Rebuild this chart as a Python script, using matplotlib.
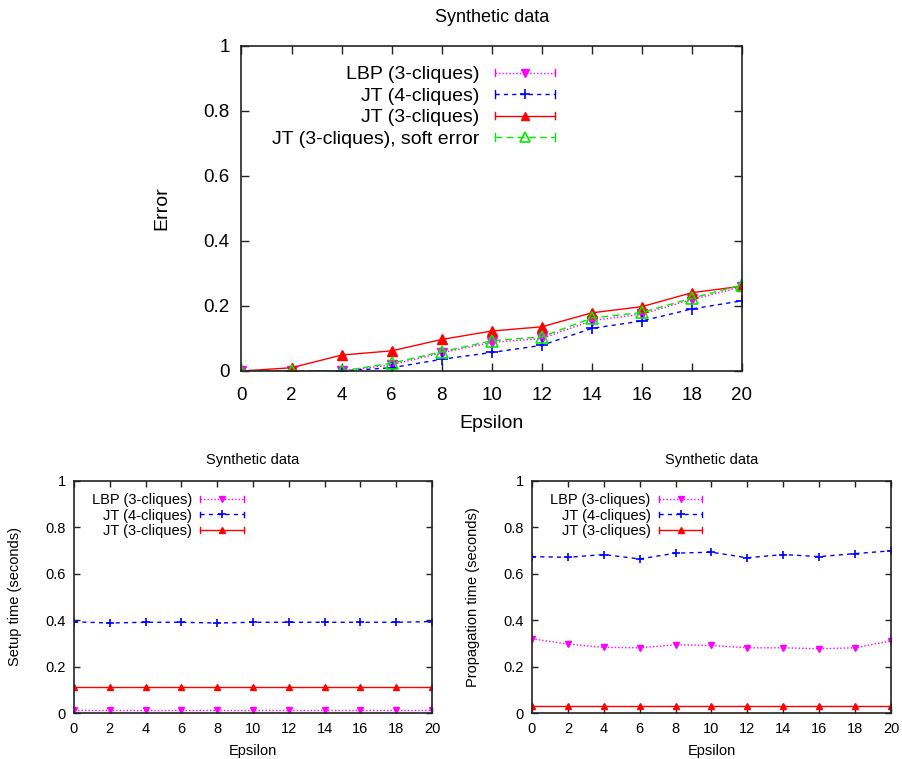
import matplotlib
matplotlib.use("Agg")
import matplotlib.pyplot as plt
from matplotlib.legend_handler import HandlerLine2D
from matplotlib.lines import Line2D
from matplotlib.ticker import FuncFormatter

plt.rcParams['font.family'] = ['Liberation Sans', 'DejaVu Sans']

epsilon = [0, 2, 4, 6, 8, 10, 12, 14, 16, 18, 20]

# Top: error
err_lbp3 = [0, 0, 0, 0.019, 0.056, 0.088, 0.100, 0.155, 0.175, 0.220, 0.259]
err_jt4 = [0, 0, 0, 0.010, 0.036, 0.057, 0.079, 0.131, 0.154, 0.191, 0.216]
err_jt3 = [0, 0.010, 0.049, 0.062, 0.097, 0.123, 0.136, 0.179, 0.198, 0.241, 0.261]
err_jt3_soft = [0, 0, 0, 0.024, 0.059, 0.093, 0.105, 0.163, 0.180, 0.224, 0.265]

# Bottom left: setup time
setup_lbp3 = [0.012, 0.012, 0.012, 0.012, 0.012, 0.012, 0.012, 0.012, 0.012, 0.012, 0.012]
setup_jt4 = [0.393, 0.388, 0.391, 0.391, 0.388, 0.391, 0.391, 0.391, 0.391, 0.391, 0.394]
setup_jt3 = [0.111, 0.111, 0.111, 0.111, 0.111, 0.111, 0.111, 0.111, 0.111, 0.111, 0.111]

# Bottom right: propagation time
prop_lbp3 = [0.320, 0.297, 0.283, 0.281, 0.294, 0.291, 0.281, 0.281, 0.277, 0.281, 0.311]
prop_jt4 = [0.674, 0.671, 0.683, 0.664, 0.689, 0.693, 0.669, 0.683, 0.674, 0.687, 0.699]
prop_jt3 = [0.031, 0.031, 0.031, 0.031, 0.031, 0.031, 0.031, 0.031, 0.031, 0.031, 0.031]

labels = ["LBP (3-cliques)", "JT (4-cliques)", "JT (3-cliques)", "JT (3-cliques), soft error"]
title = "Synthetic data"

MAG = "#ff00ff"
BLU = "#0000ff"
RED = "#ff0000"
GRN = "#00ee00"


class CapHandler(HandlerLine2D):
    def create_artists(self, legend, orig_handle, xdescent, ydescent, width, height, fontsize, trans):
        arts = super().create_artists(legend, orig_handle, xdescent, ydescent, width, height, fontsize, trans)
        c = orig_handle.get_color()
        h = height * 0.55
        y0 = height / 2 - ydescent
        for x in (-xdescent, -xdescent + width):
            cap = Line2D([x, x], [y0 - h / 2, y0 + h / 2], color=c, lw=orig_handle.get_linewidth(), linestyle='-')
            cap.set_transform(trans)
            arts.append(cap)
        return arts


fmt = FuncFormatter(lambda v, p: "%g" % round(v, 3))


def style_axes(ax, fs, ticklen, xpad, ypad):
    ax.set_xlim(0, 20)
    ax.set_ylim(0, 1)
    ax.set_xticks(epsilon)
    ax.set_yticks([0, 0.2, 0.4, 0.6, 0.8, 1.0])
    ax.xaxis.set_major_formatter(fmt)
    ax.yaxis.set_major_formatter(fmt)
    ax.tick_params(direction='in', top=True, right=True, length=ticklen, width=1.0,
                   labelsize=fs, colors='#222222', labelcolor='black')
    ax.tick_params(axis='x', pad=xpad)
    ax.tick_params(axis='y', pad=ypad)
    for s in ax.spines.values():
        s.set_linewidth(1.2)
        s.set_color('#222222')


fig = plt.figure(figsize=(9.03, 7.59), dpi=100)

# ---- Top chart
ax = fig.add_axes([0.2674, 0.5112, 0.5543, 0.4282])
style_axes(ax, 13.5, 6, 11.5, 8.5)
ms = 7
l1, = ax.plot(epsilon, err_lbp3, color=MAG, ls=(0, (1, 1.5)), lw=1, marker='v', ms=ms, label=labels[0])
l2, = ax.plot(epsilon, err_jt4, color=BLU, ls=(0, (3, 3)), lw=1, marker='+', ms=ms + 1, mew=1.2, label=labels[1])
l3, = ax.plot(epsilon, err_jt3, color=RED, ls='-', lw=1, marker='^', ms=ms, label=labels[2])
l4, = ax.plot(epsilon, err_jt3_soft, color=GRN, ls=(0, (5, 3)), lw=1, marker='^', ms=ms + 1, mfc='none', mew=1.2, label=labels[3])
ax.set_title(title, fontsize=13, pad=17.5)
ax.set_xlabel("Epsilon", fontsize=14, labelpad=8)
ax.set_ylabel("Error", fontsize=14, labelpad=23.5)
ax.legend(handles=[l1, l2, l3, l4], loc='upper right', bbox_to_anchor=(0.626, 0.939),
          frameon=False, markerfirst=False, numpoints=1, fontsize=14, markerscale=0.85,
          handlelength=3.1, handletextpad=0.77, labelspacing=0.2, borderpad=0, borderaxespad=0,
          handler_map={Line2D: CapHandler(numpoints=1)})

# ---- Bottom charts
def bottom(rect, lbp, jt4, jt3, ylabel):
    a = fig.add_axes(rect)
    style_axes(a, 10.5, 4, 6.5, 6)
    m = 4.5
    b1, = a.plot(epsilon, lbp, color=MAG, ls=(0, (1, 1.5)), lw=1, marker='v', ms=m, label=labels[0])
    b2, = a.plot(epsilon, jt4, color=BLU, ls=(0, (3, 3)), lw=1, marker='+', ms=m + 1, mew=1.2, label=labels[1])
    b3, = a.plot(epsilon, jt3, color=RED, ls='-', lw=1, marker='^', ms=m, label=labels[2])
    a.set_title(title, fontsize=10.5, pad=12)
    a.set_xlabel("Epsilon", fontsize=10.5, labelpad=5.5)
    a.set_ylabel(ylabel, fontsize=10.5, labelpad=17)
    a.legend(handles=[b1, b2, b3], loc='upper right', bbox_to_anchor=(0.475, 0.948),
             frameon=False, markerfirst=False, numpoints=1, fontsize=10.5,
             handlelength=3.0, handletextpad=0.55, labelspacing=0.1, borderpad=0, borderaxespad=0,
             handler_map={Line2D: CapHandler(numpoints=1)})
    return a

bottom([0.0819, 0.0606, 0.3965, 0.3057], setup_lbp3, setup_jt4, setup_jt3, "Setup time (seconds)")
bottom([0.5891, 0.0606, 0.3976, 0.3057], prop_lbp3, prop_jt4, prop_jt3, "Propagation time (seconds)")

fig.savefig("out.png", dpi=100)
